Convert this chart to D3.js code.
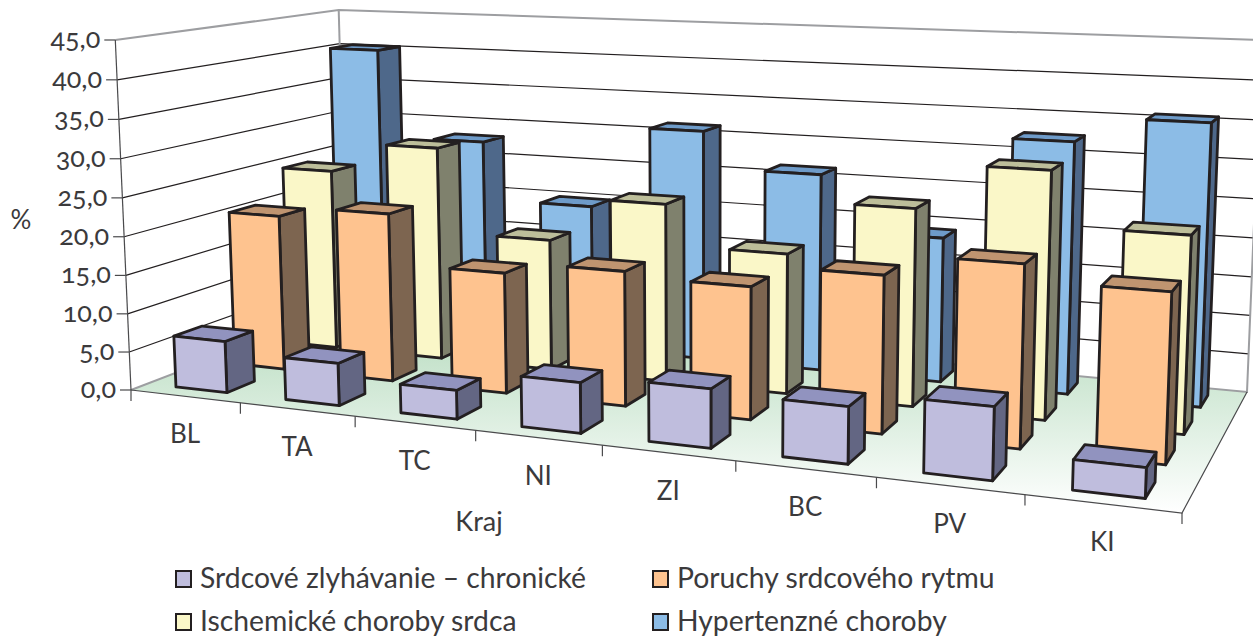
<!DOCTYPE html>
<html><head><meta charset="utf-8">
<style>html,body{margin:0;padding:0;background:#fff}svg{display:block}text{font-family:Lato,sans-serif;fill:#3b3a3c;font-variant-numeric:oldstyle-nums}</style>
<script src="https://cdn.jsdelivr.net/npm/d3@7"></script></head><body>
<svg id="c" width="1253" height="637"></svg>
<script>
const categories=["BL","TA","TC","NI","ZI","BC","PV","KI"];
const seriesNames=["Srdcové zlyhávanie – chronické","Poruchy srdcového rytmu","Ischemické choroby srdca","Hypertenzné choroby"];
const srdcove=[6.7,5.4,3.6,6.2,7.1,6.7,8.4,3.4];
const poruchy=[20.7,22.1,15.6,17.1,16.5,19.2,21.8,19.9];
const ischemicke=[24.8,28.9,17.5,23.4,18.1,25.0,30.7,24.0];
const hypertenzne=[40.3,28.0,19.9,31.2,26.3,19.0,32.4,35.6];
const valueTicks=[0,5,10,15,20,25,30,35,40,45];
const faceColors=[["#BFBDDD","#636683","#9193BF"],["#FEC38F","#7D6550","#BF9470"],["#FAF7C8","#7F816D","#BDBE9A"],["#8CBCE6","#4E688A","#6E9BC9"]];
const allValues=[srdcove,poruchy,ischemicke,hypertenzne];

// camera calibration: floor corners, top of the left edge, vertical vanishing point
const FL=[131,390],FR=[1182,513],BR=[1247,392],BL=[347,307],topY=40,VP=[710,13300];
function camera(){
  const [x0,y0]=FL,[x1,y1]=FR,[x2,y2]=BR,[x3,y3]=BL;
  const dx1=x1-x2,dx2=x3-x2,sx=x0-x1+x2-x3,dy1=y1-y2,dy2=y3-y2,sy=y0-y1+y2-y3;
  const den=dx1*dy2-dx2*dy1,g=(sx*dy2-dx2*sy)/den,h=(dx1*sy-sx*dy1)/den;
  const a=x1-x0+g*x1,b=x3-x0+h*x3,c=x0,d=y1-y0+g*y1,e=y3-y0+h*y3,f=y0;
  const k=(topY-y0)/(VP[1]-topY),a3=VP[0]*k,b3=VP[1]*k;
  return (u,v,w)=>{const D=g*u+h*v+1+k*w;return [(a*u+b*v+c+a3*w)/D,(d*u+e*v+f+b3*w)/D];};
}
const project=camera();
const wScale=d3.scaleLinear().domain([0,45]).range([0,1]);
const pad=0.53;
const uScale=d3.scaleBand().domain(categories).range([0,1]).paddingInner(pad).paddingOuter(pad/2);
const vScale=d3.scaleBand().domain(seriesNames).range([0,1]).paddingInner(pad).paddingOuter(pad/2);
const svg=d3.select("#c");
const poly=pts=>d3.line()(pts)+"Z";
const dark="#231F20",gray="#9D9EA1";

const grad=svg.append("defs").append("linearGradient").attr("id","floor").attr("x1",0).attr("y1",0).attr("x2",0).attr("y2",1);
grad.append("stop").attr("offset","0.25").attr("stop-color","#C6E3CC");
grad.append("stop").attr("offset","1").attr("stop-color","#FFFFFF");
svg.append("path").attr("d",poly([project(0,0,0),project(1,0,0),project(1,1,0),project(0,1,0)])).attr("fill","url(#floor)");

const grid=svg.append("g").attr("fill","none");
valueTicks.slice(1,-1).forEach(t=>{const w=wScale(t);
  grid.append("path").attr("d",d3.line()([project(0,0,w),project(0,1,w),project(1,1,w)])).attr("stroke",dark).attr("stroke-width",1.2);});
grid.append("path").attr("d",d3.line()([project(0,0,1),project(0,1,1),project(1,1,1)])).attr("stroke",gray).attr("stroke-width",2);
grid.append("path").attr("d",d3.line()([project(0,1,0),project(0,1,1)])).attr("stroke",gray).attr("stroke-width",2);
grid.append("path").attr("d",d3.line()([project(0,0,0),project(0,1,0),project(1,1,0),project(1,1,1)])).attr("stroke",gray).attr("stroke-width",2);

const axes=svg.append("g").attr("fill","none").attr("stroke","#4a4a4c");
axes.append("path").attr("d",d3.line()([project(0,0,0),project(0,0,1)])).attr("stroke-width",1.2);
axes.append("path").attr("d",d3.line()([project(0,0,0),project(1,0,0),project(1,1,0)])).attr("stroke-width",1.2);
valueTicks.forEach(t=>{const p=project(0,0,wScale(t));
  axes.append("path").attr("d",d3.line()([[p[0]-11,p[1]],p])).attr("stroke-width",1.2);
  svg.append("text").attr("x",p[0]-15).attr("y",p[1]+8).attr("text-anchor","end").attr("font-size",27).text(d3.format(".1f")(t).replace(".",","));
});
d3.range(0,categories.length+1).forEach(i=>{const p=project(i/categories.length,0,0);
  axes.append("path").attr("d",d3.line()([p,[p[0],p[1]+11]])).attr("stroke-width",1.2);});
categories.forEach((c,i)=>{const p=project((i+.5)/categories.length,0,0);
  svg.append("text").attr("x",p[0]).attr("y",p[1]+47).attr("text-anchor","middle").attr("font-size",26).text(c);});

const bars=svg.append("g").attr("stroke",dark).attr("stroke-width",2.8).attr("stroke-linejoin","round");
d3.range(seriesNames.length-1,-1,-1).forEach(s=>{
  const v0=vScale(seriesNames[s]),v1=v0+vScale.bandwidth(),cols=faceColors[s];
  categories.forEach((c,i)=>{
    const u0=uScale(c),u1=u0+uScale.bandwidth(),w=wScale(allValues[s][i]);
    const g=bars.append("g");
    g.append("path").attr("fill",cols[1]).attr("d",poly([project(u1,v0,0),project(u1,v1,0),project(u1,v1,w),project(u1,v0,w)]));
    g.append("path").attr("fill",cols[2]).attr("d",poly([project(u0,v0,w),project(u1,v0,w),project(u1,v1,w),project(u0,v1,w)]));
    g.append("path").attr("fill",cols[0]).attr("d",poly([project(u0,v0,0),project(u1,v0,0),project(u1,v0,w),project(u0,v0,w)]));
  });
});

svg.append("text").attr("x",21).attr("y",229).attr("text-anchor","middle").attr("font-size",26).text("%");
svg.append("text").attr("x",479).attr("y",531).attr("text-anchor","middle").attr("font-size",27).text("Kraj");

const legendX=[175,652],legendY=[570,613];
seriesNames.forEach((n,i)=>{
  const x=legendX[i%2],y=legendY[Math.floor(i/2)];
  svg.append("rect").attr("x",x+1).attr("y",y+1).attr("width",15).attr("height",16).attr("fill",faceColors[i][0]).attr("stroke",dark).attr("stroke-width",2);
  svg.append("text").attr("x",x+25).attr("y",y+18).attr("font-size",28.3).text(n);
});
</script></body></html>
